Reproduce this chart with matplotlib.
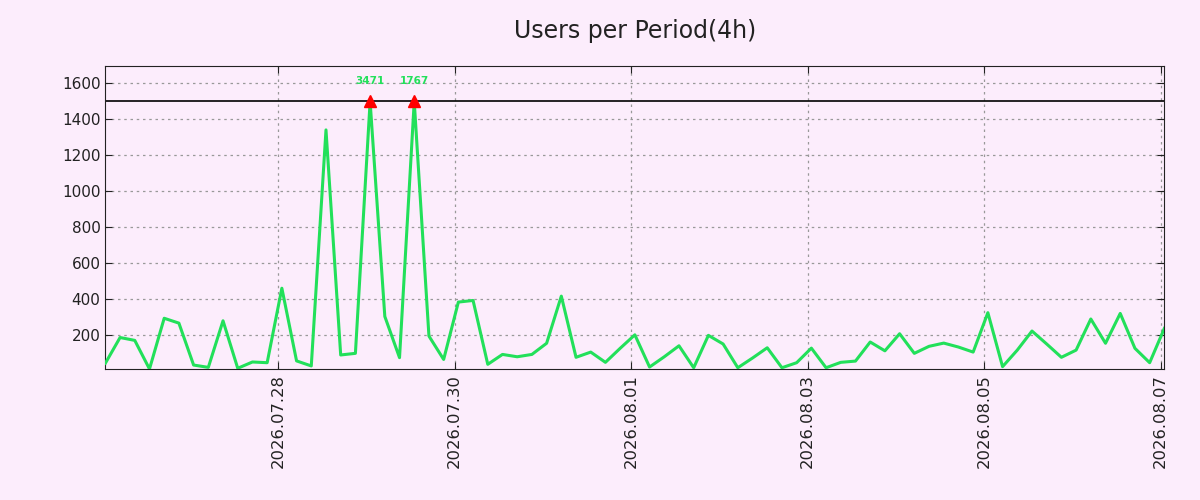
import matplotlib
matplotlib.use("Agg")
import matplotlib.pyplot as plt
import matplotlib.dates as mdates
import numpy as np
import pandas as pd

# users per 4h period, starting 2026-07-26 01:00
start = "2026-07-26 01:00"
users = [
    45, 188, 172, 13, 295, 268, 35, 22, 281, 17,
    52, 48, 462, 58, 30, 1342, 91, 100, 3471, 305,
    76, 1767, 196, 66, 385, 394, 39, 94, 81, 94,
    156, 418, 78, 107, 50, 128, 203, 24, 81, 142,
    20, 200, 152, 20, 74, 131, 20, 48, 129, 20,
    50, 57, 163, 114, 209, 100, 139, 157, 135, 107,
    326, 26, 118, 224, 152, 78, 118, 291, 156, 322,
    128, 48, 239,
]
cap = 1500
title = "Users per Period(4h)"

bg = "#fcedfc"
green = "#22e05a"

times = pd.date_range(start, periods=len(users), freq="4h")
vals = np.array(users, dtype=float)
shown = np.minimum(vals, cap)

fig = plt.figure(figsize=(12, 5), dpi=100, facecolor=bg)
ax = fig.add_axes([0.0878, 0.262, 0.8825, 0.607], facecolor=bg)

ax.plot(times, shown, color=green, lw=2.2, zorder=3)
ax.axhline(cap, color="black", lw=1.2, zorder=2)

over = vals > cap
ax.plot(times[over], shown[over], "^", color="red", markersize=8, zorder=4)
for t, v in zip(times[over], vals[over]):
    ax.annotate(str(int(v)), (t, cap), xytext=(0, 11), textcoords="offset points",
                ha="center", va="bottom", color=green, fontsize=7.5, fontweight="bold")

ax.set_xlim(times[0], times[-1])
ax.set_ylim(min(users), 1700)
ax.set_yticks(np.arange(200, 1700, 200))

ax.xaxis.set_major_locator(mdates.DayLocator(bymonthday=[1, 3, 5, 7, 28, 30]))
ax.xaxis.set_major_formatter(mdates.DateFormatter("%Y.%m.%d"))
plt.setp(ax.get_xticklabels(), rotation=90)

ax.tick_params(direction="in", top=True, right=True, length=5,
               colors="#222222", labelcolor="#222222")
ax.tick_params(axis="x", labelsize=11.8)
ax.tick_params(axis="y", labelsize=11)
ax.grid(True, linestyle=(0, (2, 3)), color="#999999", lw=0.9)
for s in ax.spines.values():
    s.set_color("#222222")

ax.set_title(title, fontsize=17, pad=20, color="#222222")

plt.savefig("out.png", dpi=100, facecolor=bg)
